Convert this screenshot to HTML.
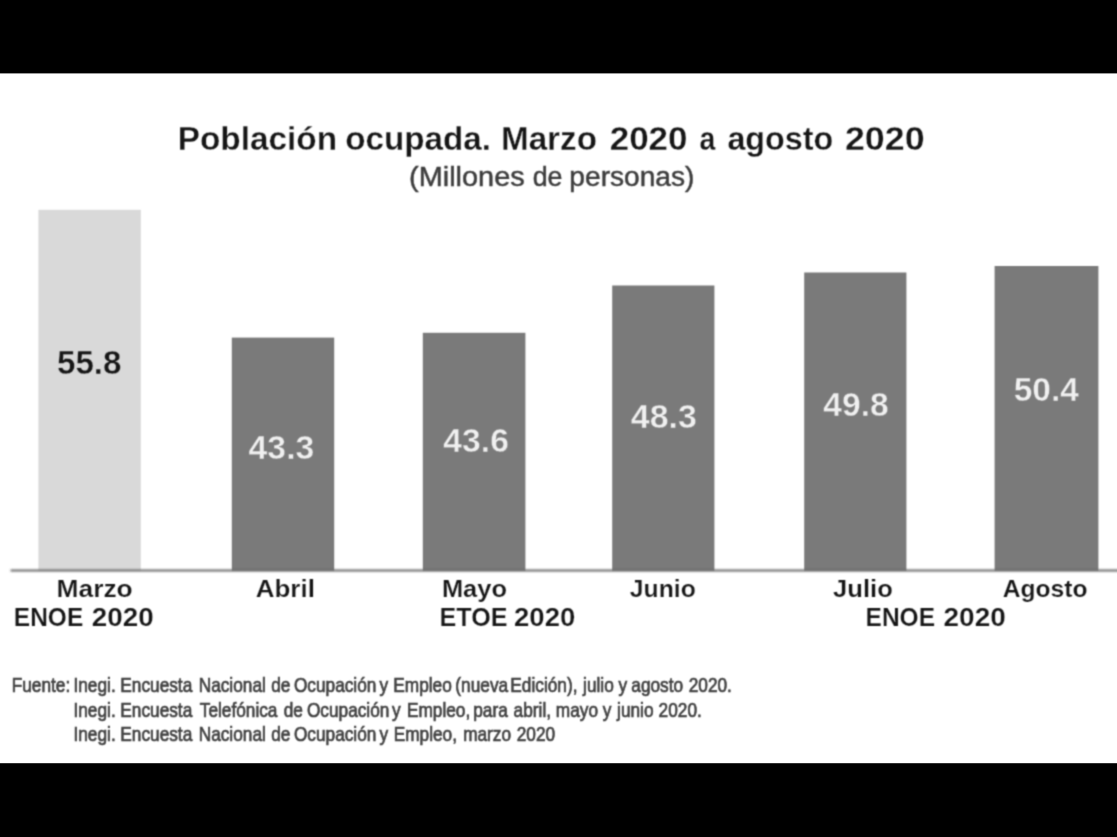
<!DOCTYPE html>
<html lang="es">
<head>
<meta charset="utf-8">
<title>Población ocupada. Marzo 2020 a agosto 2020</title>
<style>
html,body{margin:0;padding:0;background:#fff;}
body{width:1117px;height:837px;overflow:hidden;position:relative;font-family:"Liberation Sans",sans-serif;}
svg{position:absolute;left:0;top:0;display:block;}
text{font-family:"Liberation Sans",sans-serif;white-space:pre;}
.b{font-weight:bold;}
</style>
</head>
<body>
<svg width="1117" height="837" viewBox="0 0 1117 837">
<defs><filter id="sf" filterUnits="userSpaceOnUse" x="0" y="74" width="1117" height="689" color-interpolation-filters="sRGB"><feConvolveMatrix order="3" kernelMatrix="0.0439 0.1217 0.0439 0.1217 0.3377 0.1217 0.0439 0.1217 0.0439" divisor="1" edgeMode="duplicate" preserveAlpha="false"/></filter><filter id="lf" filterUnits="userSpaceOnUse" x="0" y="560" width="1117" height="20"><feGaussianBlur stdDeviation="0.9"/></filter></defs>
<rect x="0" y="0" width="1117" height="837" fill="#ffffff"/>
<rect x="0" y="0" width="1117" height="73.4" fill="#000"/>
<rect x="0" y="763.2" width="1117" height="73.8" fill="#000"/>
<g filter="url(#sf)">
<rect x="38.4" y="209.8" width="102.4" height="360.8" fill="#d9d9d9"/>
<rect x="231.8" y="337.6" width="102.4" height="233.0" fill="#7a7a7a"/>
<rect x="422.8" y="332.8" width="102.6" height="237.8" fill="#7a7a7a"/>
<rect x="612.2" y="285.5" width="102.2" height="285.1" fill="#7a7a7a"/>
<rect x="804.2" y="272.5" width="102.2" height="298.1" fill="#7a7a7a"/>
<rect x="994.6" y="266.0" width="103.8" height="304.6" fill="#7a7a7a"/>
<text class="b" transform="translate(177.75 150.30) scale(0.9926 1)" font-size="33.6" fill="#161616" stroke="#ffffff" stroke-width="0.30">Población</text>
<text class="b" transform="translate(345.31 150.30) scale(0.9882 1)" font-size="33.6" fill="#161616" stroke="#ffffff" stroke-width="0.30">ocupada.</text>
<text class="b" transform="translate(500.96 150.30) scale(0.9888 1)" font-size="33.6" fill="#161616" stroke="#ffffff" stroke-width="0.30">Marzo</text>
<text class="b" transform="translate(609.76 150.30) scale(1.0405 1)" font-size="33.6" fill="#161616" stroke="#ffffff" stroke-width="0.30">2020</text>
<text class="b" transform="translate(699.41 150.30) scale(0.8474 1)" font-size="33.6" fill="#161616" stroke="#ffffff" stroke-width="0.30">a</text>
<text class="b" transform="translate(727.39 150.30) scale(0.9614 1)" font-size="33.6" fill="#161616" stroke="#ffffff" stroke-width="0.30">agosto</text>
<text class="b" transform="translate(844.93 150.30) scale(1.0655 1)" font-size="33.6" fill="#161616" stroke="#ffffff" stroke-width="0.30">2020</text>
<text transform="translate(409.07 186.30) scale(1.0790 1)" font-size="26.8" fill="#3c3c3c" stroke="#3c3c3c" stroke-width="0.45">(Millones</text>
<text transform="translate(532.72 186.30) scale(0.9999 1)" font-size="26.8" fill="#3c3c3c" stroke="#3c3c3c" stroke-width="0.45">de</text>
<text transform="translate(569.35 186.30) scale(1.0501 1)" font-size="26.8" fill="#3c3c3c" stroke="#3c3c3c" stroke-width="0.45">personas)</text>
<text class="b" transform="translate(56.98 373.60) scale(1.0237 1)" font-size="32.4" fill="#161616" stroke="#d9d9d9" stroke-width="0.40">55.8</text>
<text class="b" transform="translate(248.58 458.50) scale(1.0430 1)" font-size="32.4" fill="#f0f0f0" stroke="#7a7a7a" stroke-width="0.40">43.3</text>
<text class="b" transform="translate(443.29 452.40) scale(1.0412 1)" font-size="32.4" fill="#f0f0f0" stroke="#7a7a7a" stroke-width="0.40">43.6</text>
<text class="b" transform="translate(630.78 428.20) scale(1.0479 1)" font-size="32.4" fill="#f0f0f0" stroke="#7a7a7a" stroke-width="0.40">48.3</text>
<text class="b" transform="translate(823.29 416.40) scale(1.0382 1)" font-size="32.4" fill="#f0f0f0" stroke="#7a7a7a" stroke-width="0.40">49.8</text>
<text class="b" transform="translate(1013.67 401.10) scale(1.0335 1)" font-size="32.4" fill="#f0f0f0" stroke="#7a7a7a" stroke-width="0.40">50.4</text>
<text class="b" transform="translate(56.44 596.50) scale(1.0830 1)" font-size="24.4" fill="#161616" stroke="#ffffff" stroke-width="0.20">Marzo</text>
<text class="b" transform="translate(13.86 625.80) scale(0.9720 1)" font-size="25.2" fill="#161616" stroke="#ffffff" stroke-width="0.20">ENOE</text>
<text class="b" transform="translate(91.84 625.80) scale(1.1031 1)" font-size="25.2" fill="#161616" stroke="#ffffff" stroke-width="0.20">2020</text>
<text class="b" transform="translate(255.76 596.50) scale(1.0645 1)" font-size="24.4" fill="#161616" stroke="#ffffff" stroke-width="0.20">Abril</text>
<text class="b" transform="translate(441.90 596.50) scale(1.0439 1)" font-size="24.4" fill="#161616" stroke="#ffffff" stroke-width="0.20">Mayo</text>
<text class="b" transform="translate(439.61 626.40) scale(0.9983 1)" font-size="25.2" fill="#161616" stroke="#ffffff" stroke-width="0.20">ETOE</text>
<text class="b" transform="translate(514.05 626.40) scale(1.0920 1)" font-size="25.2" fill="#161616" stroke="#ffffff" stroke-width="0.20">2020</text>
<text class="b" transform="translate(629.78 596.50) scale(1.0149 1)" font-size="24.4" fill="#161616" stroke="#ffffff" stroke-width="0.20">Junio</text>
<text class="b" transform="translate(833.06 596.50) scale(1.0491 1)" font-size="24.4" fill="#161616" stroke="#ffffff" stroke-width="0.20">Julio</text>
<text class="b" transform="translate(865.55 626.40) scale(0.9735 1)" font-size="25.2" fill="#161616" stroke="#ffffff" stroke-width="0.20">ENOE</text>
<text class="b" transform="translate(943.53 626.40) scale(1.1105 1)" font-size="25.2" fill="#161616" stroke="#ffffff" stroke-width="0.20">2020</text>
<text class="b" transform="translate(1002.70 596.50) scale(1.0097 1)" font-size="24.4" fill="#161616" stroke="#ffffff" stroke-width="0.20">Agosto</text>
<text transform="translate(11.71 692.00) scale(0.8550 1)" font-size="20.2" fill="#404040" stroke="#404040" stroke-width="0.70">Fuente:</text>
<text transform="translate(73.45 692.00) scale(0.8550 1)" font-size="20.2" fill="#404040" stroke="#404040" stroke-width="0.70">Inegi.</text>
<text transform="translate(120.30 692.00) scale(0.8550 1)" font-size="20.2" fill="#404040" stroke="#404040" stroke-width="0.70">Encuesta</text>
<text transform="translate(198.66 692.00) scale(0.8550 1)" font-size="20.2" fill="#404040" stroke="#404040" stroke-width="0.70">Nacional</text>
<text transform="translate(271.19 692.00) scale(0.8550 1)" font-size="20.2" fill="#404040" stroke="#404040" stroke-width="0.70">de</text>
<text transform="translate(293.88 692.00) scale(0.8550 1)" font-size="20.2" fill="#404040" stroke="#404040" stroke-width="0.70">Ocupación</text>
<text transform="translate(379.47 692.00) scale(0.8550 1)" font-size="20.2" fill="#404040" stroke="#404040" stroke-width="0.70">y</text>
<text transform="translate(393.25 692.00) scale(0.8550 1)" font-size="20.2" fill="#404040" stroke="#404040" stroke-width="0.70">Empleo</text>
<text transform="translate(455.35 692.00) scale(0.8550 1)" font-size="20.2" fill="#404040" stroke="#404040" stroke-width="0.70">(nueva</text>
<text transform="translate(510.32 692.00) scale(0.8550 1)" font-size="20.2" fill="#404040" stroke="#404040" stroke-width="0.70">Edición),</text>
<text transform="translate(583.05 692.00) scale(0.8550 1)" font-size="20.2" fill="#404040" stroke="#404040" stroke-width="0.70">julio</text>
<text transform="translate(618.57 692.00) scale(0.8550 1)" font-size="20.2" fill="#404040" stroke="#404040" stroke-width="0.70">y</text>
<text transform="translate(631.30 692.00) scale(0.8550 1)" font-size="20.2" fill="#404040" stroke="#404040" stroke-width="0.70">agosto</text>
<text transform="translate(688.68 692.00) scale(0.8550 1)" font-size="20.2" fill="#404040" stroke="#404040" stroke-width="0.70">2020.</text>
<text transform="translate(73.45 716.60) scale(0.8550 1)" font-size="20.2" fill="#404040" stroke="#404040" stroke-width="0.70">Inegi.</text>
<text transform="translate(120.30 716.60) scale(0.8550 1)" font-size="20.2" fill="#404040" stroke="#404040" stroke-width="0.70">Encuesta</text>
<text transform="translate(199.75 716.60) scale(0.8550 1)" font-size="20.2" fill="#404040" stroke="#404040" stroke-width="0.70">Telefónica</text>
<text transform="translate(283.74 716.60) scale(0.8550 1)" font-size="20.2" fill="#404040" stroke="#404040" stroke-width="0.70">de</text>
<text transform="translate(306.88 716.60) scale(0.8550 1)" font-size="20.2" fill="#404040" stroke="#404040" stroke-width="0.70">Ocupación</text>
<text transform="translate(392.02 716.60) scale(0.8550 1)" font-size="20.2" fill="#404040" stroke="#404040" stroke-width="0.70">y</text>
<text transform="translate(406.89 716.60) scale(0.8550 1)" font-size="20.2" fill="#404040" stroke="#404040" stroke-width="0.70">Empleo,</text>
<text transform="translate(473.25 716.60) scale(0.8550 1)" font-size="20.2" fill="#404040" stroke="#404040" stroke-width="0.70">para</text>
<text transform="translate(513.62 716.60) scale(0.8550 1)" font-size="20.2" fill="#404040" stroke="#404040" stroke-width="0.70">abril,</text>
<text transform="translate(555.84 716.60) scale(0.8550 1)" font-size="20.2" fill="#404040" stroke="#404040" stroke-width="0.70">mayo</text>
<text transform="translate(602.82 716.60) scale(0.8550 1)" font-size="20.2" fill="#404040" stroke="#404040" stroke-width="0.70">y</text>
<text transform="translate(617.08 716.60) scale(0.8550 1)" font-size="20.2" fill="#404040" stroke="#404040" stroke-width="0.70">junio</text>
<text transform="translate(658.58 716.60) scale(0.8550 1)" font-size="20.2" fill="#404040" stroke="#404040" stroke-width="0.70">2020.</text>
<text transform="translate(73.45 741.00) scale(0.8550 1)" font-size="20.2" fill="#404040" stroke="#404040" stroke-width="0.70">Inegi.</text>
<text transform="translate(120.30 741.00) scale(0.8550 1)" font-size="20.2" fill="#404040" stroke="#404040" stroke-width="0.70">Encuesta</text>
<text transform="translate(198.66 741.00) scale(0.8550 1)" font-size="20.2" fill="#404040" stroke="#404040" stroke-width="0.70">Nacional</text>
<text transform="translate(271.19 741.00) scale(0.8550 1)" font-size="20.2" fill="#404040" stroke="#404040" stroke-width="0.70">de</text>
<text transform="translate(293.88 741.00) scale(0.8550 1)" font-size="20.2" fill="#404040" stroke="#404040" stroke-width="0.70">Ocupación</text>
<text transform="translate(379.47 741.00) scale(0.8550 1)" font-size="20.2" fill="#404040" stroke="#404040" stroke-width="0.70">y</text>
<text transform="translate(393.69 741.00) scale(0.8550 1)" font-size="20.2" fill="#404040" stroke="#404040" stroke-width="0.70">Empleo,</text>
<text transform="translate(463.14 741.00) scale(0.8550 1)" font-size="20.2" fill="#404040" stroke="#404040" stroke-width="0.70">marzo</text>
<text transform="translate(516.70 741.00) scale(0.8550 1)" font-size="20.2" fill="#404040" stroke="#404040" stroke-width="0.70">2020</text>
</g>
<rect x="10.6" y="569.5" width="1110" height="2.0" fill="#626262" filter="url(#lf)"/>
</svg>
</body>
</html>
